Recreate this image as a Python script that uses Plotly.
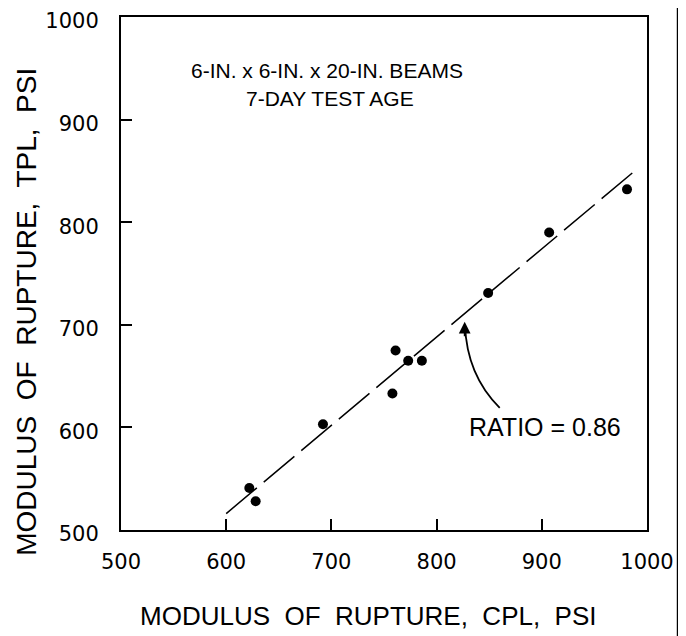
import plotly.graph_objects as go

# Data
cpl = [622, 628, 692, 758, 761, 773, 786, 849, 907, 981]   # modulus of rupture, CPL, psi
tpl = [541, 528, 603, 633, 675, 665, 665, 731, 790, 832]   # modulus of rupture, TPL, psi
ratio = 0.86
line_x = [600, 990]
line_y = [ratio * v for v in line_x]

x_ticks = [500, 600, 700, 800, 900, 1000]
y_ticks = [500, 600, 700, 800, 900, 1000]

FONT = "Liberation Sans, Arial, sans-serif"
TICKFONT = "DejaVu Sans, sans-serif"

fig = go.Figure()
fig.add_trace(go.Scatter(x=line_x, y=line_y, mode="lines",
                         line=dict(color="black", width=1.5, dash="40px,9px"),
                         showlegend=False, hoverinfo="skip"))
fig.add_trace(go.Scatter(x=cpl, y=tpl, mode="markers",
                         marker=dict(color="black", size=10),
                         showlegend=False))

# curved leader for the ratio label
fig.add_shape(type="path", xref="x", yref="y",
              path="M 860,619 Q 828.6,651 827,700",
              line=dict(color="black", width=1.8))
fig.add_annotation(x=826.7, y=703, xref="x", yref="y", text="",
                   showarrow=True, arrowhead=2, arrowsize=1.3, arrowwidth=1.8,
                   arrowcolor="black", ax=0, ay=16, axref="pixel", ayref="pixel")

fig.add_annotation(x=902.7, y=600.4, xref="x", yref="y", text="RATIO = 0.86",
                   xanchor="center", yanchor="middle",
                   showarrow=False, font=dict(family=FONT, size=25, color="black"))
fig.add_annotation(x=565, y=948, xref="x", yref="y",
                   text="6-IN. x 6-IN. x 20-IN. BEAMS",
                   xanchor="left", yanchor="middle",
                   showarrow=False, font=dict(family=FONT, size=21, color="black"))
fig.add_annotation(x=617, y=921, xref="x", yref="y", text="7-DAY TEST AGE",
                   xanchor="left", yanchor="middle",
                   showarrow=False, font=dict(family=FONT, size=21, color="black"))

# axis titles
fig.add_annotation(x=0.47, y=-0.168, xref="paper", yref="paper",
                   text="MODULUS  OF  RUPTURE,  CPL,  PSI", showarrow=False,
                   xanchor="center", yanchor="middle",
                   font=dict(family=FONT, size=26, color="black"))
fig.add_annotation(x=-0.18, y=0.426, xref="paper", yref="paper",
                   text="MODULUS  OF  RUPTURE,  TPL,  PSI", showarrow=False,
                   xanchor="center", yanchor="middle", textangle=-90,
                   font=dict(family=FONT, size=28, color="black"))

# page border line at the right edge of the scan
fig.add_shape(type="line", xref="paper", yref="paper",
              x0=1.059, x1=1.059, y0=-0.23, y1=1.04,
              line=dict(color="black", width=2.5))

axis_common = dict(showgrid=False, zeroline=False, showline=True, linecolor="black",
                   linewidth=2, mirror=True, ticks="inside", ticklen=11,
                   tickwidth=1.5, tickcolor="black", automargin=False,
                   ticklabeloverflow="allow",
                   tickfont=dict(family=TICKFONT, size=21, color="black"))
fig.update_xaxes(range=[500, 1000], tickvals=x_ticks,
                 ticktext=[str(v) for v in x_ticks], ticklabelstandoff=12,
                 **axis_common)
fig.update_yaxes(range=[500, 1000], tickvals=y_ticks,
                 ticktext=[str(v) for v in y_ticks], ticklabelstandoff=16,
                 ticklabelshift=4,
                 **axis_common)

fig.update_layout(width=686, height=636,
                  margin=dict(l=113, r=47, t=9, b=114, autoexpand=False),
                  plot_bgcolor="white", paper_bgcolor="white",
                  showlegend=False)

fig.write_html("out.html")
